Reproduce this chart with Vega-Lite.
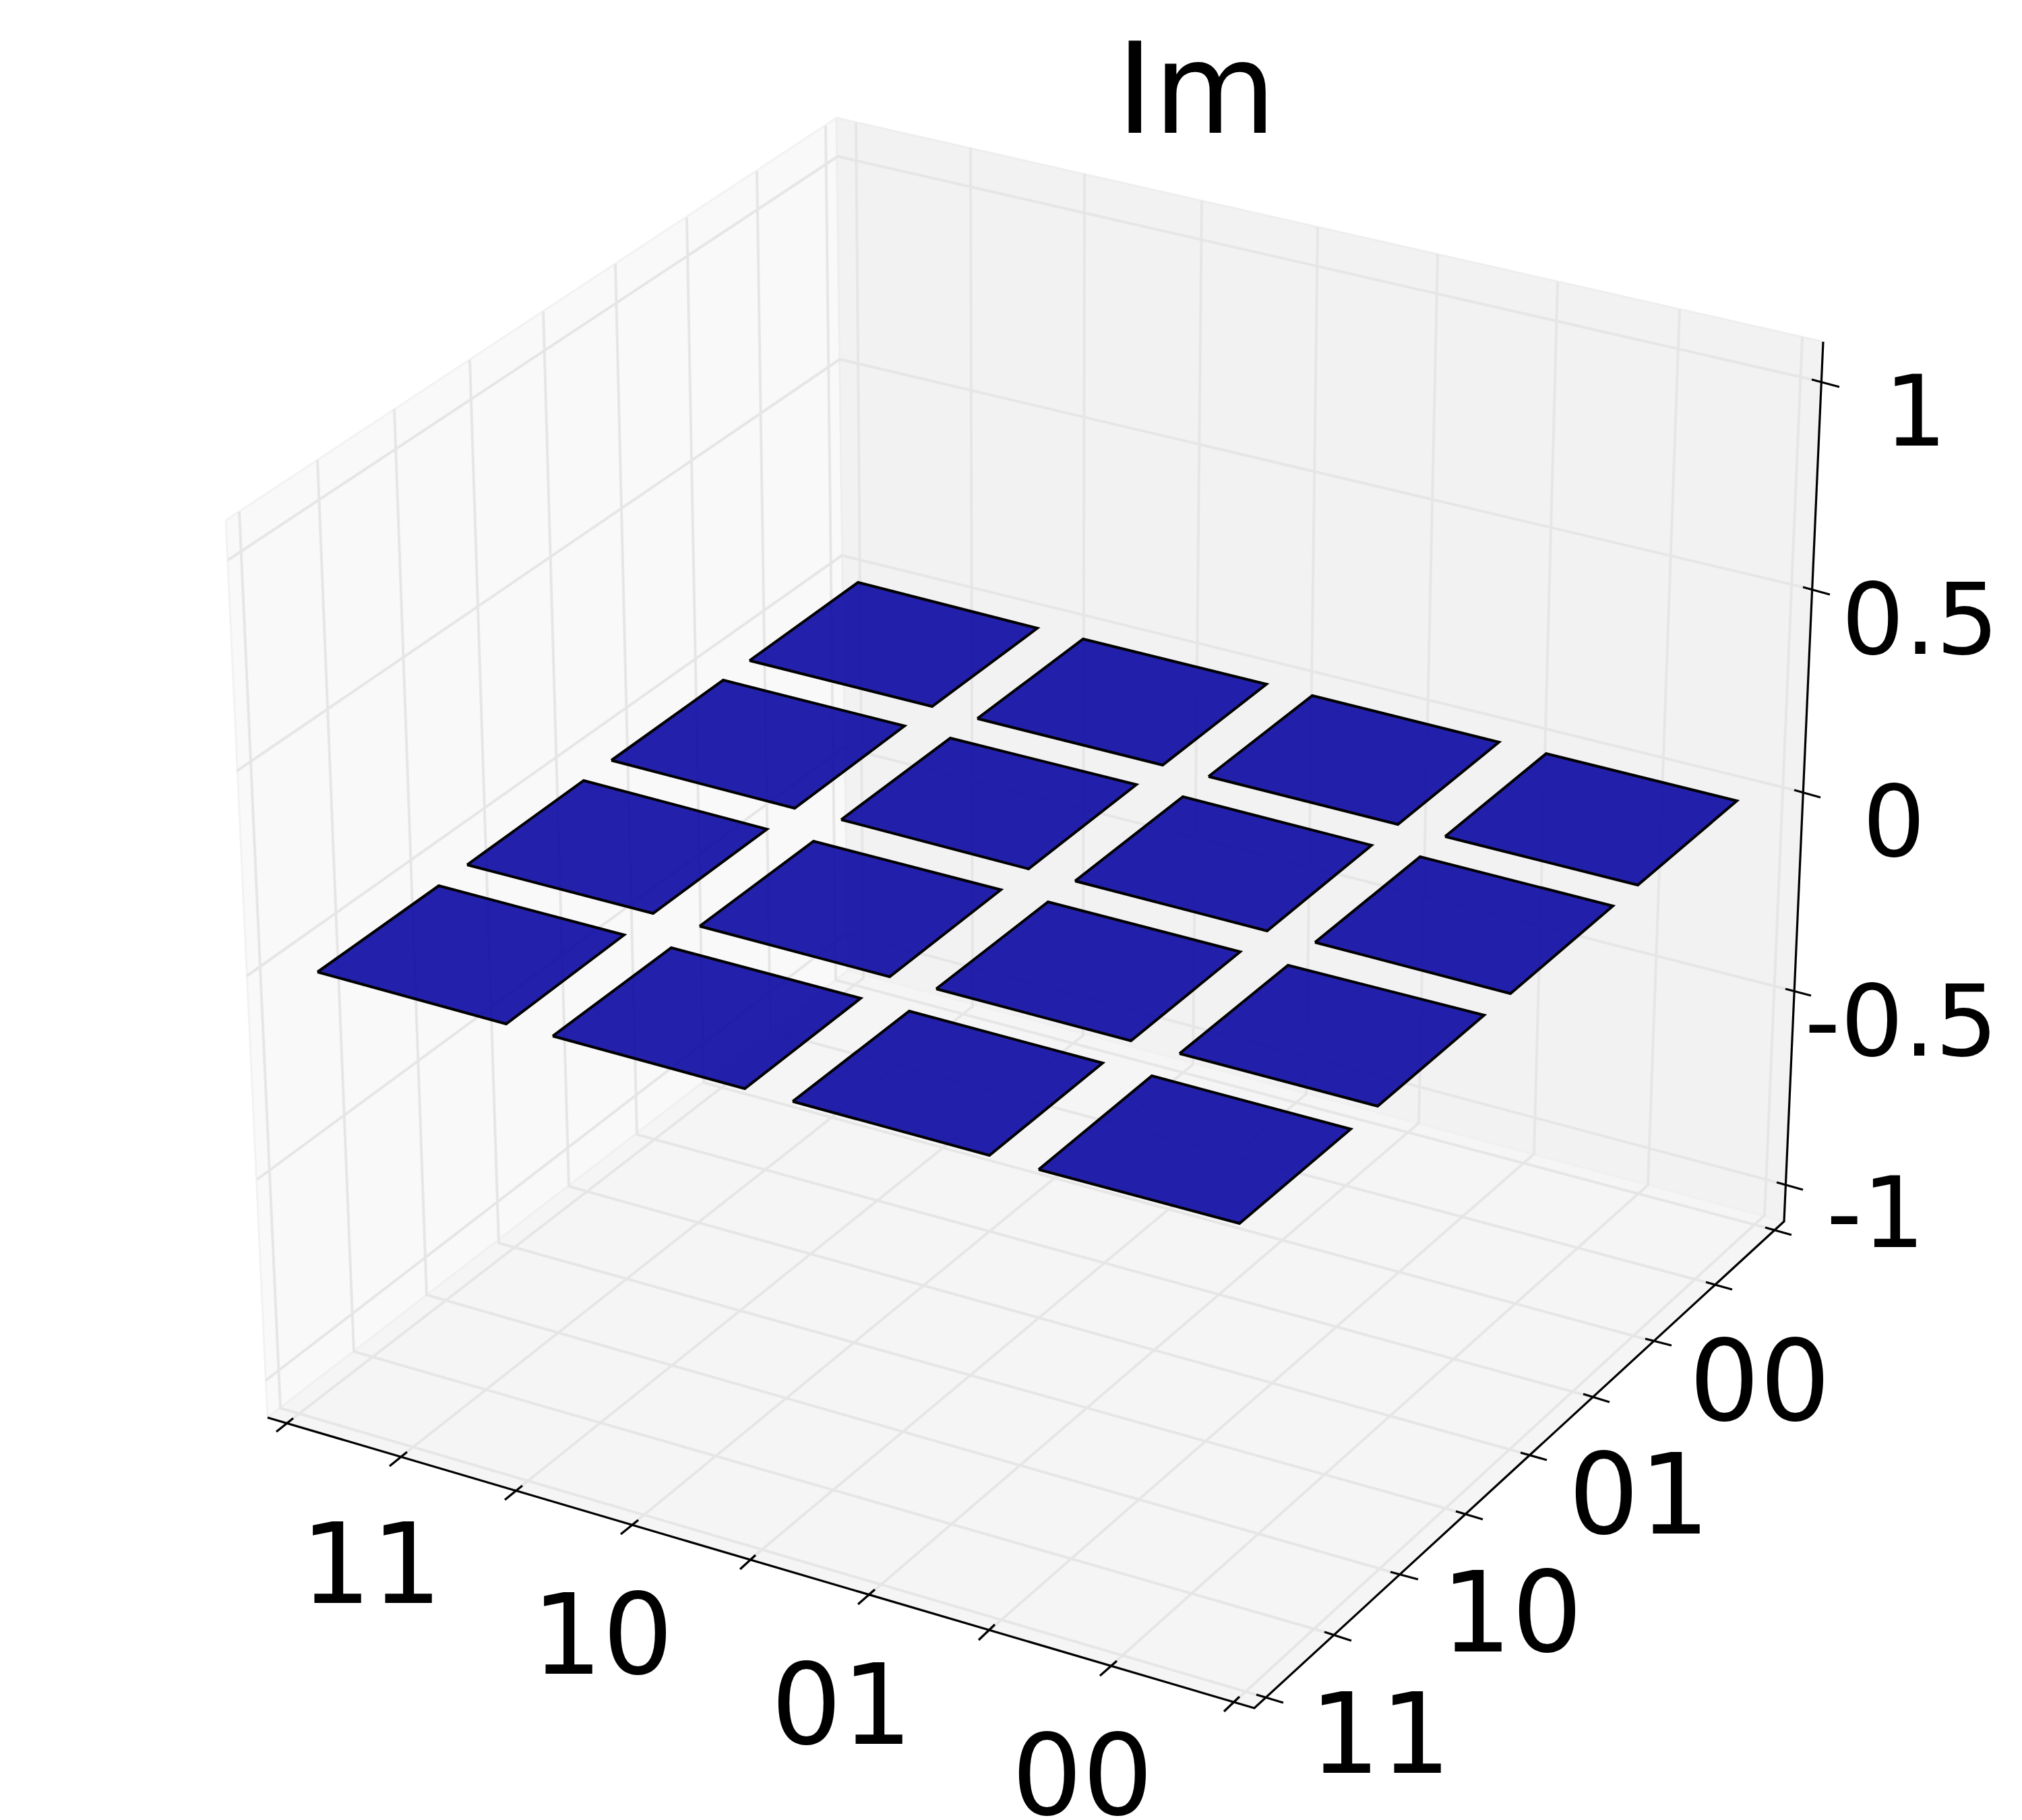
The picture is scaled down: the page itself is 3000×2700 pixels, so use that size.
{
"$schema":"https://vega.github.io/schema/vega-lite/v6.json",
"width":3000,"height":2700,"padding":0,
"autosize":{"type":"none"},
"background":"white",
"config":{"view":{"stroke":null}},
"datasets":{
"panes":[
{"id":"left","i":0,"h":335,"v":772},{"id":"left","i":1,"h":1241,"v":175},{"id":"left","i":2,"h":1258,"v":1440},{"id":"left","i":3,"h":397,"v":2103},{"id":"left","i":4,"h":335,"v":772},
{"id":"right","i":0,"h":1241,"v":175},{"id":"right","i":1,"h":2705,"v":507},{"id":"right","i":2,"h":2647,"v":1812},{"id":"right","i":3,"h":1258,"v":1440},{"id":"right","i":4,"h":1241,"v":175},
{"id":"floor","i":0,"h":397,"v":2103},{"id":"floor","i":1,"h":1258,"v":1440},{"id":"floor","i":2,"h":2647,"v":1812},{"id":"floor","i":3,"h":1861,"v":2534},{"id":"floor","i":4,"h":397,"v":2103}
],
"grid":[
{"id":"a0","i":0,"h":355,"v":759},{"id":"a0","i":1,"h":416,"v":2089},{"id":"a0","i":2,"h":1877,"v":2518},
{"id":"a1","i":0,"h":471,"v":682},{"id":"a1","i":1,"h":525,"v":2005},{"id":"a1","i":2,"h":1979,"v":2425},
{"id":"a2","i":0,"h":585,"v":607},{"id":"a2","i":1,"h":633,"v":1921},{"id":"a2","i":2,"h":2078,"v":2336},
{"id":"a3","i":0,"h":697,"v":534},{"id":"a3","i":1,"h":740,"v":1844},{"id":"a3","i":2,"h":2174,"v":2246},
{"id":"a4","i":0,"h":806,"v":462},{"id":"a4","i":1,"h":844,"v":1760},{"id":"a4","i":2,"h":2271,"v":2159},
{"id":"a5","i":0,"h":913,"v":392},{"id":"a5","i":1,"h":945,"v":1683},{"id":"a5","i":2,"h":2364,"v":2073},
{"id":"a6","i":0,"h":1019,"v":323},{"id":"a6","i":1,"h":1044,"v":1606},{"id":"a6","i":2,"h":2454,"v":1990},
{"id":"a7","i":0,"h":1123,"v":254},{"id":"a7","i":1,"h":1143,"v":1530},{"id":"a7","i":2,"h":2545,"v":1906},
{"id":"a8","i":0,"h":1225,"v":187},{"id":"a8","i":1,"h":1240,"v":1454},{"id":"a8","i":2,"h":2634,"v":1825},
{"id":"b0","i":0,"h":1270,"v":182},{"id":"b0","i":1,"h":1281,"v":1451},{"id":"b0","i":2,"h":422,"v":2114},
{"id":"b1","i":0,"h":1440,"v":220},{"id":"b1","i":1,"h":1443,"v":1493},{"id":"b1","i":2,"h":591,"v":2164},
{"id":"b2","i":0,"h":1609,"v":258},{"id":"b2","i":1,"h":1607,"v":1536},{"id":"b2","i":2,"h":762,"v":2214},
{"id":"b3","i":0,"h":1783,"v":298},{"id":"b3","i":1,"h":1770,"v":1579},{"id":"b3","i":2,"h":934,"v":2265},
{"id":"b4","i":0,"h":1955,"v":337},{"id":"b4","i":1,"h":1938,"v":1623},{"id":"b4","i":2,"h":1110,"v":2316},
{"id":"b5","i":0,"h":2133,"v":377},{"id":"b5","i":1,"h":2105,"v":1666},{"id":"b5","i":2,"h":1286,"v":2369},
{"id":"b6","i":0,"h":2311,"v":418},{"id":"b6","i":1,"h":2276,"v":1712},{"id":"b6","i":2,"h":1464,"v":2422},
{"id":"b7","i":0,"h":2492,"v":459},{"id":"b7","i":1,"h":2445,"v":1758},{"id":"b7","i":2,"h":1644,"v":2475},
{"id":"b8","i":0,"h":2674,"v":500},{"id":"b8","i":1,"h":2618,"v":1803},{"id":"b8","i":2,"h":1827,"v":2529},
{"id":"z1","i":0,"h":338,"v":831},{"id":"z1","i":1,"h":1243,"v":232},{"id":"z1","i":2,"h":2688,"v":563},
{"id":"z2","i":0,"h":351,"v":1144},{"id":"z2","i":1,"h":1246,"v":533},{"id":"z2","i":2,"h":2675,"v":871},
{"id":"z3","i":0,"h":366,"v":1448},{"id":"z3","i":1,"h":1249,"v":824},{"id":"z3","i":2,"h":2662,"v":1172},
{"id":"z4","i":0,"h":381,"v":1750},{"id":"z4","i":1,"h":1252,"v":1109},{"id":"z4","i":2,"h":2649,"v":1467},
{"id":"z5","i":0,"h":394,"v":2048},{"id":"z5","i":1,"h":1255,"v":1385},{"id":"z5","i":2,"h":2636,"v":1754}
],
"axes":[
{"id":"axis","i":0,"h":397,"v":2103},{"id":"axis","i":1,"h":1861,"v":2534},{"id":"axis","i":2,"h":2647,"v":1812},{"id":"axis","i":3,"h":2705,"v":507},
{"id":"x0","i":0,"h":435,"v":2104},{"id":"x0","i":1,"h":410,"v":2124},
{"id":"x1","i":0,"h":604,"v":2154},{"id":"x1","i":1,"h":578,"v":2175},
{"id":"x2","i":0,"h":775,"v":2204},{"id":"x2","i":1,"h":749,"v":2225},
{"id":"x3","i":0,"h":947,"v":2255},{"id":"x3","i":1,"h":921,"v":2276},
{"id":"x4","i":0,"h":1121,"v":2307},{"id":"x4","i":1,"h":1098,"v":2328},
{"id":"x5","i":0,"h":1298,"v":2358},{"id":"x5","i":1,"h":1273,"v":2380},
{"id":"x6","i":0,"h":1476,"v":2410},{"id":"x6","i":1,"h":1452,"v":2433},
{"id":"x7","i":0,"h":1657,"v":2464},{"id":"x7","i":1,"h":1632,"v":2486},
{"id":"x8","i":0,"h":1839,"v":2517},{"id":"x8","i":1,"h":1816,"v":2539},
{"id":"y0","i":0,"h":1864,"v":2514},{"id":"y0","i":1,"h":1904,"v":2526},
{"id":"y1","i":0,"h":1965,"v":2421},{"id":"y1","i":1,"h":2005,"v":2434},
{"id":"y2","i":0,"h":2063,"v":2332},{"id":"y2","i":1,"h":2104,"v":2343},
{"id":"y3","i":0,"h":2160,"v":2242},{"id":"y3","i":1,"h":2200,"v":2254},
{"id":"y4","i":0,"h":2256,"v":2155},{"id":"y4","i":1,"h":2295,"v":2166},
{"id":"y5","i":0,"h":2349,"v":2068},{"id":"y5","i":1,"h":2388,"v":2080},
{"id":"y6","i":0,"h":2441,"v":1986},{"id":"y6","i":1,"h":2480,"v":1996},
{"id":"y7","i":0,"h":2531,"v":1902},{"id":"y7","i":1,"h":2570,"v":1913},
{"id":"y8","i":0,"h":2619,"v":1821},{"id":"y8","i":1,"h":2658,"v":1832},
{"id":"t1","i":0,"h":2688,"v":563},{"id":"t1","i":1,"h":2729,"v":574},
{"id":"t2","i":0,"h":2675,"v":871},{"id":"t2","i":1,"h":2715,"v":882},
{"id":"t3","i":0,"h":2662,"v":1172},{"id":"t3","i":1,"h":2701,"v":1183},
{"id":"t4","i":0,"h":2649,"v":1467},{"id":"t4","i":1,"h":2687,"v":1477},
{"id":"t5","i":0,"h":2636,"v":1754},{"id":"t5","i":1,"h":2675,"v":1765}
],
"tiles":[
{"id":"D","i":0,"h":1112,"v":980},{"id":"D","i":1,"h":1273,"v":864},{"id":"D","i":2,"h":1539,"v":932},{"id":"D","i":3,"h":1383,"v":1048},{"id":"D","i":4,"h":1112,"v":980},
{"id":"H","i":0,"h":1450,"v":1066},{"id":"H","i":1,"h":1607,"v":948},{"id":"H","i":2,"h":1879,"v":1015},{"id":"H","i":3,"h":1725,"v":1135},{"id":"H","i":4,"h":1450,"v":1066},
{"id":"I","i":0,"h":1793,"v":1152},{"id":"I","i":1,"h":1947,"v":1032},{"id":"I","i":2,"h":2224,"v":1101},{"id":"I","i":3,"h":2074,"v":1223},{"id":"I","i":4,"h":1793,"v":1152},
{"id":"J","i":0,"h":2144,"v":1241},{"id":"J","i":1,"h":2294,"v":1118},{"id":"J","i":2,"h":2577,"v":1188},{"id":"J","i":3,"h":2430,"v":1313},{"id":"J","i":4,"h":2144,"v":1241},
{"id":"C","i":0,"h":907,"v":1128},{"id":"C","i":1,"h":1073,"v":1009},{"id":"C","i":2,"h":1342,"v":1077},{"id":"C","i":3,"h":1179,"v":1199},{"id":"C","i":4,"h":907,"v":1128},
{"id":"G","i":0,"h":1248,"v":1216},{"id":"G","i":1,"h":1410,"v":1095},{"id":"G","i":2,"h":1686,"v":1164},{"id":"G","i":3,"h":1526,"v":1289},{"id":"G","i":4,"h":1248,"v":1216},
{"id":"L","i":0,"h":1595,"v":1307},{"id":"L","i":1,"h":1755,"v":1182},{"id":"L","i":2,"h":2035,"v":1254},{"id":"L","i":3,"h":1880,"v":1381},{"id":"L","i":4,"h":1595,"v":1307},
{"id":"K","i":0,"h":1951,"v":1398},{"id":"K","i":1,"h":2107,"v":1271},{"id":"K","i":2,"h":2393,"v":1344},{"id":"K","i":3,"h":2241,"v":1474},{"id":"K","i":4,"h":1951,"v":1398},
{"id":"B","i":0,"h":693,"v":1283},{"id":"B","i":1,"h":866,"v":1158},{"id":"B","i":2,"h":1138,"v":1230},{"id":"B","i":3,"h":969,"v":1355},{"id":"B","i":4,"h":693,"v":1283},
{"id":"F","i":0,"h":1038,"v":1374},{"id":"F","i":1,"h":1207,"v":1248},{"id":"F","i":2,"h":1485,"v":1320},{"id":"F","i":3,"h":1320,"v":1449},{"id":"F","i":4,"h":1038,"v":1374},
{"id":"N","i":0,"h":1389,"v":1467},{"id":"N","i":1,"h":1555,"v":1338},{"id":"N","i":2,"h":1840,"v":1412},{"id":"N","i":3,"h":1678,"v":1544},{"id":"N","i":4,"h":1389,"v":1467},
{"id":"O","i":0,"h":1750,"v":1563},{"id":"O","i":1,"h":1911,"v":1432},{"id":"O","i":2,"h":2202,"v":1506},{"id":"O","i":3,"h":2044,"v":1641},{"id":"O","i":4,"h":1750,"v":1563},
{"id":"A","i":0,"h":471,"v":1442},{"id":"A","i":1,"h":651,"v":1314},{"id":"A","i":2,"h":926,"v":1387},{"id":"A","i":3,"h":751,"v":1519},{"id":"A","i":4,"h":471,"v":1442},
{"id":"E","i":0,"h":820,"v":1537},{"id":"E","i":1,"h":996,"v":1406},{"id":"E","i":2,"h":1277,"v":1481},{"id":"E","i":3,"h":1105,"v":1615},{"id":"E","i":4,"h":820,"v":1537},
{"id":"Q","i":0,"h":1176,"v":1634},{"id":"Q","i":1,"h":1349,"v":1500},{"id":"Q","i":2,"h":1636,"v":1577},{"id":"Q","i":3,"h":1468,"v":1714},{"id":"Q","i":4,"h":1176,"v":1634},
{"id":"P","i":0,"h":1541,"v":1735},{"id":"P","i":1,"h":1709,"v":1596},{"id":"P","i":2,"h":2004,"v":1675},{"id":"P","i":3,"h":1839,"v":1815},{"id":"P","i":4,"h":1541,"v":1735}
],
"zlabels":[
{"label":"1","h":2842,"v":661},{"label":"0.5","h":2849,"v":970},{"label":"0","h":2810,"v":1270},{"label":"-0.5","h":2821,"v":1566},{"label":"-1","h":2783,"v":1850}
],
"xylabels":[
{"label":"00","h":2611,"v":2107},{"label":"01","h":2432,"v":2275},{"label":"10","h":2243,"v":2450},{"label":"11","h":2048,"v":2630},
{"label":"11","h":551,"v":2378},{"label":"10","h":894,"v":2483},{"label":"01","h":1249,"v":2587},{"label":"00","h":1606,"v":2692}
],
"heading":[{"label":"Im","h":1775,"v":197}]
},
"encoding":{
"x":{"field":"h","type":"quantitative","scale":{"domain":[0,3000],"nice":false,"zero":false},"axis":null},
"y":{"field":"v","type":"quantitative","scale":{"domain":[2700,0],"nice":false,"zero":false},"axis":null}
},
"layer":[
{"data":{"name":"panes"},"transform":[{"filter":"datum.id==='left'"}],
 "mark":{"type":"line","fill":"#f9f9f9","stroke":"#f2f2f2","strokeWidth":3},
 "encoding":{"detail":{"field":"id"},"order":{"field":"i"}}},
{"data":{"name":"panes"},"transform":[{"filter":"datum.id==='right'"}],
 "mark":{"type":"line","fill":"#f2f2f2","stroke":"#eeeeee","strokeWidth":3},
 "encoding":{"detail":{"field":"id"},"order":{"field":"i"}}},
{"data":{"name":"panes"},"transform":[{"filter":"datum.id==='floor'"}],
 "mark":{"type":"line","fill":"#f5f5f5","stroke":"#f0f0f0","strokeWidth":3},
 "encoding":{"detail":{"field":"id"},"order":{"field":"i"}}},
{"data":{"name":"grid"},
 "mark":{"type":"line","stroke":"#e6e6e6","strokeWidth":4},
 "encoding":{"detail":{"field":"id"},"order":{"field":"i"}}},
{"data":{"name":"axes"},
 "mark":{"type":"line","stroke":"#000000","strokeWidth":3.2},
 "encoding":{"detail":{"field":"id"},"order":{"field":"i"}}},
{"data":{"name":"tiles"},
 "mark":{"type":"line","fill":"#0b09a2","fillOpacity":0.9,"stroke":"#000000","strokeWidth":4},
 "encoding":{"detail":{"field":"id"},"order":{"field":"i"}}},
{"data":{"name":"zlabels"},
 "mark":{"type":"text","font":"DejaVu Sans","fontSize":147,"align":"center","baseline":"alphabetic","color":"#000000"},
 "encoding":{"text":{"field":"label","type":"nominal"}}},
{"data":{"name":"xylabels"},
 "mark":{"type":"text","font":"DejaVu Sans","fontSize":165,"align":"center","baseline":"alphabetic","color":"#000000"},
 "encoding":{"text":{"field":"label","type":"nominal"}}},
{"data":{"name":"heading"},
 "mark":{"type":"text","font":"DejaVu Sans","fontSize":187,"align":"center","baseline":"alphabetic","color":"#000000"},
 "encoding":{"text":{"field":"label","type":"nominal"}}}
]
}
